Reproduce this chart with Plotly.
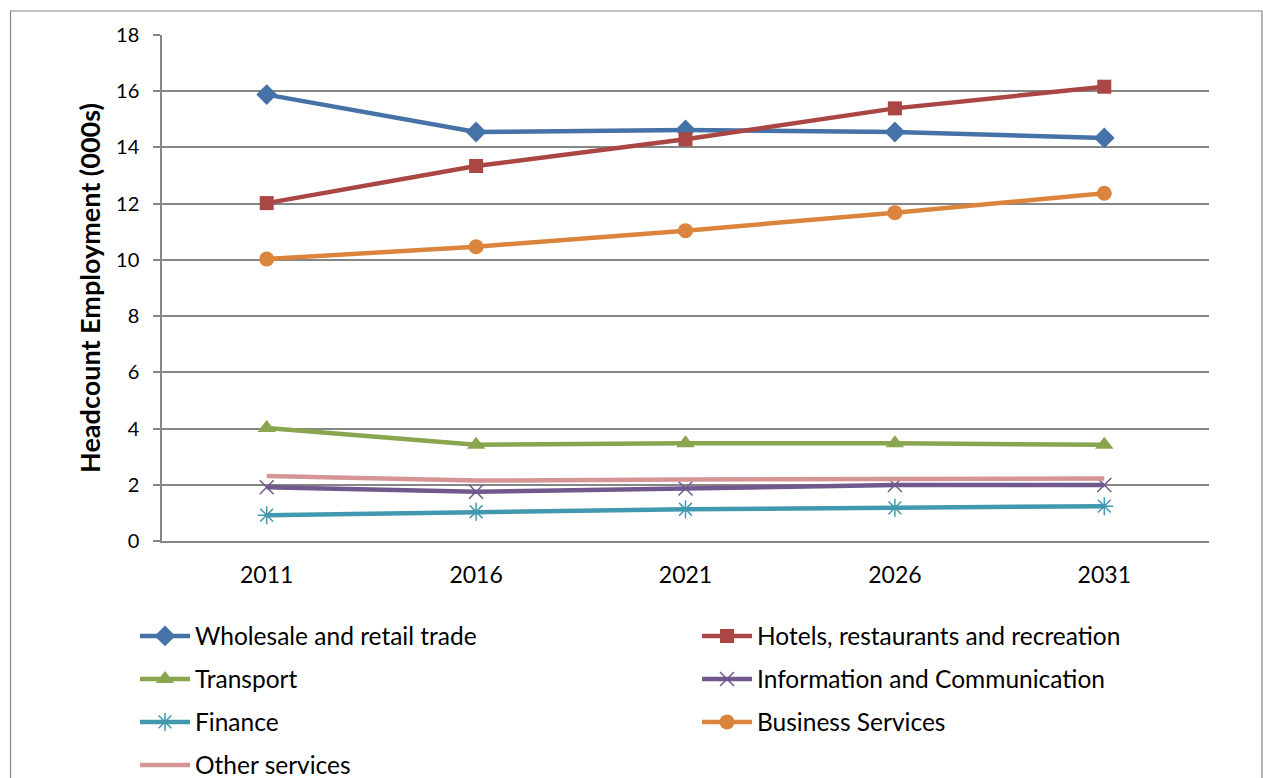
import plotly.graph_objects as go

# Headcount employment projections by sector (thousands)
years = ["2011", "2016", "2021", "2026", "2031"]

wholesale_retail = [15.88, 14.55, 14.62, 14.55, 14.34]
hotels_restaurants = [12.02, 13.34, 14.29, 15.39, 16.16]
transport = [4.02, 3.42, 3.48, 3.48, 3.42]
info_comm = [1.91, 1.75, 1.87, 1.99, 1.99]
finance = [0.92, 1.04, 1.13, 1.18, 1.24]
business_services = [10.03, 10.47, 11.04, 11.68, 12.37]
other_services = [2.31, 2.15, 2.19, 2.22, 2.22]

y_ticks = [0, 2, 4, 6, 8, 10, 12, 14, 16, 18]

FONT = "Lato, Calibri, Carlito, sans-serif"
GRID = "#868686"

series = [
    ("Wholesale and retail trade", wholesale_retail, "#4572A7",
     dict(symbol="diamond", size=16), "legend"),
    ("Hotels, restaurants and recreation", hotels_restaurants, "#AA4643",
     dict(symbol="square", size=14), "legend"),
    ("Transport", transport, "#89A54E",
     dict(symbol="triangle-up", size=16), "legend2"),
    ("Information and Communication", info_comm, "#71588F",
     dict(symbol="x-thin-open", size=14, line=dict(width=1.5, color="#71588F")), "legend2"),
    ("Finance", finance, "#4198AF",
     dict(symbol="asterisk-open", size=15, line=dict(width=1.5, color="#4198AF")), "legend3"),
    ("Business Services", business_services, "#DB843D",
     dict(symbol="circle", size=15), "legend3"),
    ("Other services", other_services, "#D69595", None, "legend4"),
]

fig = go.Figure()
for name, vals, color, marker, leg in series:
    kw = dict(mode="lines+markers", marker=dict(color=color, **marker)) if marker else dict(mode="lines")
    fig.add_trace(go.Scatter(
        x=years, y=vals, name=name, legend=leg,
        line=dict(color=color, width=4.5),
        **kw,
    ))

# Plot area in pixels (figure is 1263 x 778)
L, R, T, B = 162, 1209, 35, 541
W, H = 1263, 778
pw, ph = R - L, B - T


def px_x(p):
    return (p - L) / pw


def px_y(p):
    return (B - p) / ph


legend_common = dict(
    orientation="h",
    font=dict(family=FONT, size=24.5, color="#000000"),
    entrywidth=497, entrywidthmode="pixels",
    xanchor="left", yanchor="middle",
    bgcolor="rgba(0,0,0,0)",
    itemwidth=50,
)
row_y = [636, 679, 722, 765]
leg_x = px_x(135)

fig.update_layout(
    width=W, height=H,
    margin=dict(l=L, r=W - R, t=T, b=H - B, autoexpand=False),
    paper_bgcolor="white", plot_bgcolor="white",
    font=dict(family=FONT, color="#000000"),
    showlegend=True,
    legend=dict(x=leg_x, y=px_y(row_y[0]), **legend_common),
    legend2=dict(x=leg_x, y=px_y(row_y[1]), **legend_common),
    legend3=dict(x=leg_x, y=px_y(row_y[2]), **legend_common),
    legend4=dict(x=leg_x, y=px_y(row_y[3]), **legend_common),
    xaxis=dict(
        type="category", range=[-0.5, 4.5],
        showgrid=False, showline=True, linecolor=GRID, linewidth=1.5,
        ticks="", tickfont=dict(family=FONT, size=23),
        ticklabelstandoff=13,
    ),
    yaxis=dict(
        range=[0, 18], tickvals=y_ticks,
        showgrid=True, gridcolor=GRID, gridwidth=1.5,
        showline=True, linecolor=GRID, linewidth=1.5,
        ticks="outside", ticklen=7, tickcolor=GRID, tickwidth=1.5,
        tickfont=dict(family=FONT, size=20),
        ticklabelstandoff=10,
        zeroline=False,
        title=dict(text="<b>Headcount Employment (000s)</b>",
                   font=dict(family=FONT, size=27), standoff=8),
    ),
    shapes=[dict(
        type="rect", xref="paper", yref="paper",
        x0=px_x(10.5), x1=px_x(1262), y0=px_y(800), y1=px_y(11),
        line=dict(color="#868686", width=1.2), fillcolor="rgba(0,0,0,0)",
        layer="below",
    )],
)

fig.write_html("out.html")
